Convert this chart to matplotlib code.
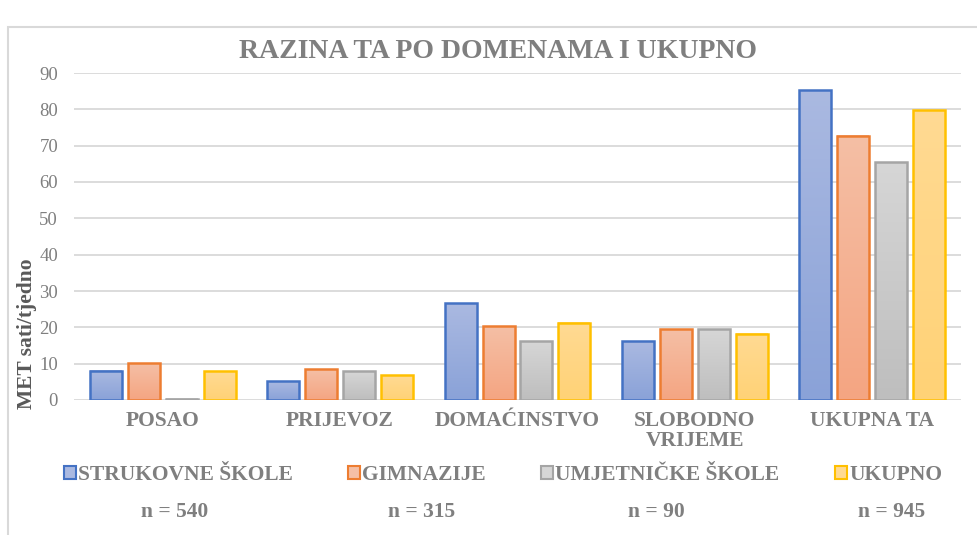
import numpy as np
import matplotlib
matplotlib.use("Agg")
import matplotlib.pyplot as plt
from matplotlib.patches import Rectangle
from matplotlib.colors import LinearSegmentedColormap

categories = ["POSAO", "PRIJEVOZ", "DOMAĆINSTVO", "SLOBODNO\nVRIJEME", "UKUPNA TA"]
series_names = ["STRUKOVNE ŠKOLE", "GIMNAZIJE", "UMJETNIČKE ŠKOLE", "UKUPNO"]
strukovne = [8.0, 5.2, 26.6, 16.2, 85.3]
gimnazije = [10.1, 8.4, 20.3, 19.5, 72.7]
umjetnicke = [0.3, 7.9, 16.2, 19.5, 65.4]
ukupno = [7.9, 6.8, 21.2, 18.2, 79.8]
n_labels = ["n = 540", "n = 315", "n = 90", "n = 945"]
yticks = [0, 10, 20, 30, 40, 50, 60, 70, 80, 90]

values = [strukovne, gimnazije, umjetnicke, ukupno]
edge_colors = ["#4472C4", "#ED7D31", "#A5A5A5", "#FFC000"]
top_colors = ["#AAB9E1", "#F5BFA5", "#D6D6D6", "#FFDA93"]
bot_colors = ["#8AA2D8", "#F4A582", "#BEBEBE", "#FFD276"]

plt.rcParams['font.family'] = ['Liberation Serif', 'DejaVu Serif']
grey = "#7F7F7F"

fig = plt.figure(figsize=(9.77, 5.35), dpi=100)
W, H = 977, 535
ax = fig.add_axes([74 / W, (H - 400) / H, (961 - 74) / W, (400 - 73) / H])

# chart frame
fig.patches.append(Rectangle((8 / W, -0.01), 1.0, (H - 27) / H + 0.01, transform=fig.transFigure,
                             fill=False, edgecolor="#D9D9D9", linewidth=1.5))

x = np.arange(len(categories))
slot = 38 / 177.5
bw = 32 / 177.5
offsets = (np.arange(4) - 1.5) * slot

for i, vals in enumerate(values):
    bars = ax.bar(x + offsets[i], vals, width=bw, facecolor="none",
                  edgecolor=edge_colors[i], linewidth=1.8, zorder=3)
    cmap = LinearSegmentedColormap.from_list("g%d" % i, [bot_colors[i], top_colors[i]])
    grad = np.linspace(1, 0, 100).reshape(-1, 1)
    for b in bars:
        x0, w, h = b.get_x(), b.get_width(), b.get_height()
        ax.imshow(grad, cmap=cmap, extent=[x0, x0 + w, 0, h], aspect='auto',
                  zorder=2, interpolation='bicubic')

ax.set_xlim(-0.5, len(categories) - 0.5)
ax.set_ylim(0, 90)
ax.set_yticks(yticks)
ax.set_yticklabels([str(t) for t in yticks], fontsize=13.5, color=grey)
ax.set_xticks(x)
ax.set_xticklabels(categories, fontsize=15.5, fontweight='bold', color=grey, linespacing=1.0)
ax.tick_params(axis='x', length=0, pad=8)
ax.tick_params(axis='y', length=0, pad=11.5)
ax.yaxis.grid(True, color="#D9D9D9", linewidth=1.3, zorder=0)
ax.set_axisbelow(True)
for s in ax.spines.values():
    s.set_visible(False)

fig.text(498 / W, 1 - 51 / H, "RAZINA TA PO DOMENAMA I UKUPNO", ha='center', va='center',
         fontsize=20, fontweight='bold', color=grey)
fig.text(27 / W, 1 - 334 / H, "MET sati/tjedno", rotation=90, ha='center', va='center',
         fontsize=15.5, fontweight='bold', color="#595959")

# legend
leg_x = [64, 348, 541, 835]
for i, name in enumerate(series_names):
    h = Rectangle((0, 0), 1, 1, facecolor=top_colors[i], edgecolor=edge_colors[i], linewidth=1.5)
    lg = fig.legend([h], [name], loc='center left', bbox_to_anchor=(leg_x[i] / W, 1 - 475 / H),
                    frameon=False, handlelength=0.55, handleheight=0.55, handletextpad=0.1,
                    borderaxespad=0, borderpad=0,
                    prop={'size': 15.5, 'weight': 'bold', 'family': 'Liberation Serif'})
    for t in lg.get_texts():
        t.set_color(grey)

n_x = [175, 422, 656, 892]
for xx, lab in zip(n_x, n_labels):
    fig.text(xx / W, 1 - 512 / H, lab, ha='center', va='center', fontsize=15.5,
             fontweight='bold', color=grey)

fig.savefig("out.png", dpi=100)
